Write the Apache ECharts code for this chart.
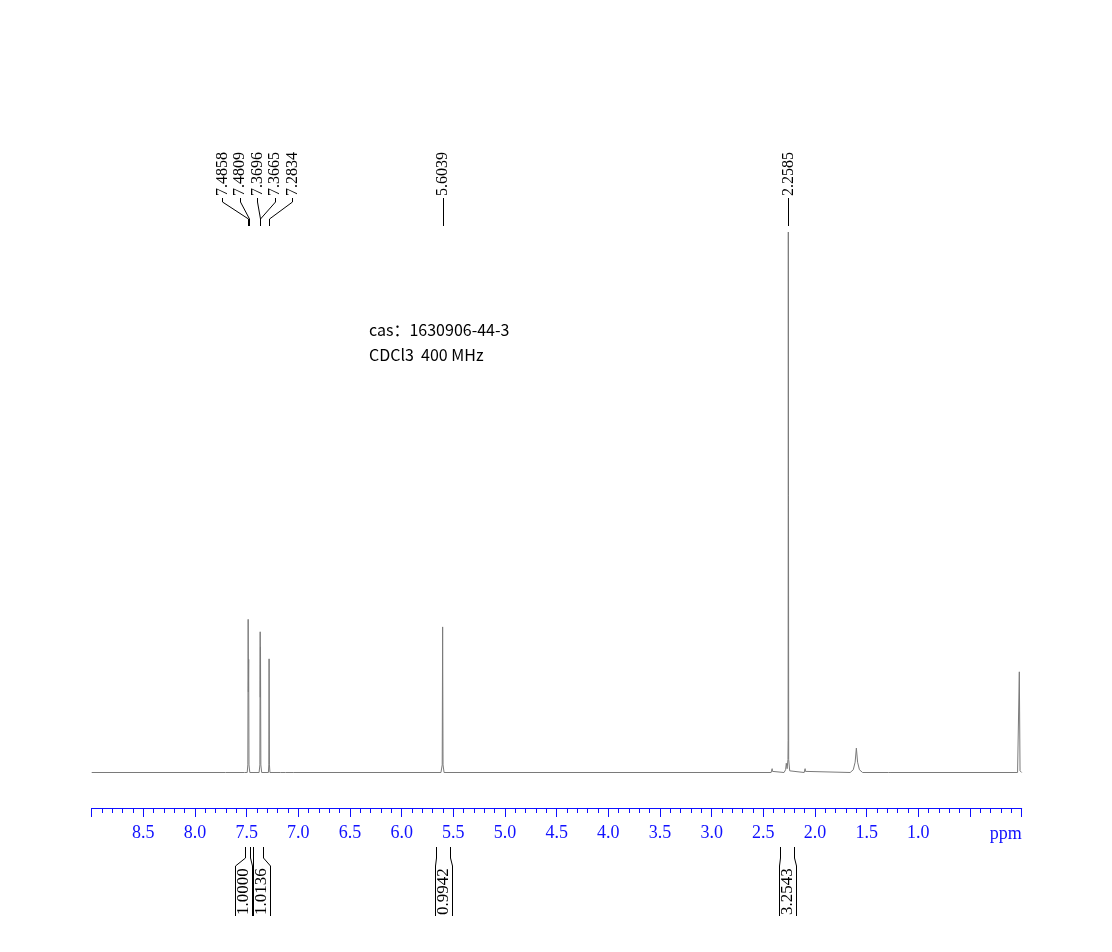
<!DOCTYPE html>
<html>
<head>
<meta charset="utf-8">
<script src="https://cdn.jsdelivr.net/npm/echarts@6/dist/echarts.min.js"></script>
<style>
html,body{margin:0;padding:0;background:#fff;}
#c{width:1112px;height:952px;}
</style>
</head>
<body>
<div id="c"></div>
<script>
// ---- data ----
const axisTickLabels = [8.5, 8.0, 7.5, 7.0, 6.5, 6.0, 5.5, 5.0, 4.5, 4.0, 3.5, 3.0, 2.5, 2.0, 1.5, 1.0];
const axisUnit = 'ppm';

// spectrum trace: [ppm, relative intensity]
const spectrum = [
  [9.0, 0.09], [7.705, 0.09], [7.700, 0.35], [7.695, 0.09],
  [7.52, 0.09], [7.515, 0.45], [7.51, 0.09],
  [7.495, 0.09], [7.489, 1.5], [7.4858, 28.4], [7.4835, 15.0], [7.4809, 21.0], [7.478, 1.5], [7.47, 0.09],
  [7.38, 0.09], [7.3725, 1.5], [7.3696, 26.1], [7.368, 14.0], [7.3665, 23.3], [7.363, 1.5], [7.355, 0.09],
  [7.29, 0.09], [7.286, 1.5], [7.2834, 21.1], [7.280, 1.5], [7.275, 0.09],
  [7.175, 0.09], [7.17, 0.4], [7.165, 0.09], [7.125, 0.09], [7.12, 0.35], [7.115, 0.09], [7.045, 0.09], [7.04, 0.3], [7.035, 0.09],
  [5.62, 0.09], [5.608, 1.5], [5.6039, 27.0], [5.600, 1.5], [5.59, 0.09],
  [2.425, 0.09], [2.418, 0.3], [2.415, 0.8], [2.412, 0.3], [2.405, 0.09],
  [2.30, 0.09], [2.285, 0.6], [2.278, 1.8], [2.270, 0.8], [2.262, 2.5], [2.2605, 6.0], [2.2585, 100], [2.255, 2.5], [2.245, 0.4], [2.23, 0.09],
  [2.105, 0.09], [2.099, 0.3], [2.096, 0.8], [2.093, 0.3], [2.087, 0.09],
  [1.66, 0.09], [1.63, 0.6], [1.612, 2.0], [1.600, 4.6], [1.588, 2.0], [1.57, 0.6], [1.54, 0.09],
  [1.29, 0.09], [1.282, 0.2], [1.277, 0.35], [1.272, 0.2], [1.265, 0.09],
  [0.04, 0.09], [0.03, 0.4], [0.023, 18.7], [0.016, 0.4], [0.0, 0.09]
];

// picked peaks (labels on top)
const peakShifts = [7.4858, 7.4809, 7.3696, 7.3665, 7.2834, 5.6039, 2.2585];

// integrals (below axis)
const integralFrom = [7.52, 7.44, 5.67, 2.34];
const integralTo = [7.465, 7.34, 5.53, 2.20];
const integralValues = [1.0000, 1.0136, 0.9942, 3.2543];

// annotation text
const annotationLines = ['cas\uFF1A1630906-44-3', 'CDCl3  400 MHz'];

// ---- chart ----
const SERIF = '"Liberation Serif", "Times New Roman", serif';
const SANS = '"Noto Sans CJK SC", "Noto Sans", sans-serif';
const BLUE = '#1010ff';

function spread(naturals, gap) {
  const order = naturals.map((x, i) => i).sort((a, b) => naturals[a] - naturals[b]);
  let groups = order.map(i => ({ idx: [i], c: naturals[i] }));
  let changed = true;
  while (changed) {
    changed = false;
    for (let g = 0; g < groups.length - 1; g++) {
      const a = groups[g], b = groups[g + 1];
      const aEnd = a.c + (a.idx.length - 1) * gap / 2;
      const bStart = b.c - (b.idx.length - 1) * gap / 2;
      if (bStart - aEnd < gap) {
        const idx = a.idx.concat(b.idx);
        const c = idx.reduce((s, i) => s + naturals[i], 0) / idx.length;
        groups.splice(g, 2, { idx: idx, c: c });
        changed = true;
        break;
      }
    }
  }
  const out = new Array(naturals.length);
  groups.forEach(gr => {
    const n = gr.idx.length;
    gr.idx.forEach((i, k) => { out[i] = gr.c + (k - (n - 1) / 2) * gap; });
  });
  return out;
}

const px = v => Math.round(v) + 0.5;

const chart = echarts.init(document.getElementById('c'));

const option = {
  animation: false,
  backgroundColor: '#fff',
  grid: { left: 91.7, right: 90.3, top: 232, bottom: 179, containLabel: false },
  xAxis: {
    type: 'value',
    min: 0, max: 9, interval: 0.5,
    inverse: true,
    offset: 35,
    splitLine: { show: false },
    axisLine: { show: true, onZero: false, lineStyle: { color: BLUE, width: 1 } },
    axisTick: { show: true, inside: false, length: 9, lineStyle: { color: BLUE } },
    minorTick: { show: true, splitNumber: 5, length: 5, lineStyle: { color: BLUE } },
    minorSplitLine: { show: false },
    axisLabel: {
      color: BLUE, fontFamily: SERIF, fontSize: 18, margin: 16,
      formatter: function (v) {
        return axisTickLabels.some(t => Math.abs(t - v) < 1e-6) ? v.toFixed(1) : '';
      }
    }
  },
  yAxis: { type: 'value', min: 0, max: 100, show: false },
  series: [
    {
      type: 'line',
      data: spectrum,
      showSymbol: false,
      symbol: 'none',
      clip: false,
      lineStyle: { color: '#7a7a7a', width: 1 },
      z: 2
    },
    {
      type: 'custom',
      coordinateSystem: 'cartesian2d',
      clip: false,
      data: peakShifts.map(v => [v, 100]),
      encode: { x: 0, y: 1 },
      renderItem: function (params, api) {
        const naturals = peakShifts.map(v => api.coord([v, 100])[0]);
        const lay = spread(naturals, 17.5);
        const i = params.dataIndex;
        const top = api.coord([0, 100])[1];
        const peakX = px(naturals[i]);
        const lx = px(lay[i]);
        const y0 = top - 34, y1 = top - 30, y2 = top - 13, y3 = top - 6;
        return {
          type: 'group',
          children: [
            { type: 'polyline', shape: { points: [[lx, y0], [lx, y1], [peakX, y2], [peakX, y3]] },
              style: { stroke: '#000', lineWidth: 1, fill: null } },
            { type: 'text', x: lay[i], y: y0 - 2, rotation: Math.PI / 2,
              style: { text: peakShifts[i].toFixed(4), font: '16px ' + SERIF, fill: '#000',
                       align: 'left', verticalAlign: 'middle' } }
          ]
        };
      },
      z: 3
    },
    {
      type: 'custom',
      coordinateSystem: 'cartesian2d',
      clip: false,
      data: integralFrom.map((f, i) => [f, integralTo[i], integralValues[i]]),
      encode: { x: [0, 1], y: 2 },
      renderItem: function (params, api) {
        const naturals = integralFrom.map((f, k) => (api.coord([f, 0])[0] + api.coord([integralTo[k], 0])[0]) / 2);
        const lay = spread(naturals, 18);
        const i = params.dataIndex;
        const base = api.coord([0, 0])[1];
        const xa = api.coord([api.value(0), 0])[0];
        const xb = api.coord([api.value(1), 0])[0];
        const xl = px(Math.min(xa, xb)), xr = px(Math.max(xa, xb));
        const c = lay[i], hw = 8.5;
        const yA = base + 74, yB = base + 85, yC = base + 93, yD = base + 143;
        return {
          type: 'group',
          children: [
            { type: 'polyline', shape: { points: [[xl, yA], [xl, yB], [px(c - hw), yC], [px(c - hw), yD]] },
              style: { stroke: '#000', lineWidth: 1, fill: null } },
            { type: 'polyline', shape: { points: [[xr, yA], [xr, yB], [px(c + hw), yC], [px(c + hw), yD]] },
              style: { stroke: '#000', lineWidth: 1, fill: null } },
            { type: 'text', x: c, y: yD - 1, rotation: Math.PI / 2,
              style: { text: api.value(2).toFixed(4), font: '17px ' + SERIF, fill: '#000',
                       align: 'left', verticalAlign: 'middle' } }
          ]
        };
      },
      z: 3
    }
  ]
};

chart.setOption(option);

// unit label right-aligned to the axis end, annotation text
const endX = chart.convertToPixel({ xAxisIndex: 0 }, 0);
chart.setOption({
  graphic: [
    { type: 'text', x: endX, y: 834, style: { text: axisUnit, font: '18px ' + SERIF, fill: BLUE, align: 'right', verticalAlign: 'middle' } },
    { type: 'text', x: 369, y: 330, style: { text: annotationLines[0], font: '16px ' + SANS, fill: '#000', verticalAlign: 'middle' } },
    { type: 'text', x: 369, y: 355, style: { text: annotationLines[1], font: '16px ' + SANS, fill: '#000', verticalAlign: 'middle' } }
  ]
});
</script>
</body>
</html>
